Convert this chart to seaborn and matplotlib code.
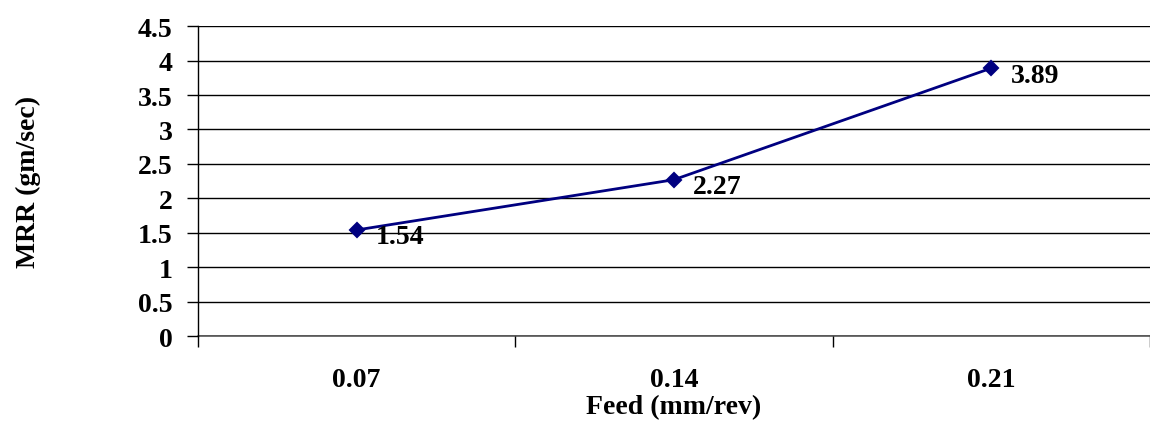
import pandas as pd
import matplotlib
matplotlib.use('Agg')
import matplotlib.pyplot as plt
import seaborn as sns
from matplotlib.ticker import FixedLocator, MultipleLocator

# 数据
feed = ['0.07', '0.14', '0.21']
mrr = [1.54, 2.27, 3.89]

df = pd.DataFrame({'feed': feed, 'mrr': mrr})

sns.set_style('white')
plt.rcParams['font.family'] = ['Liberation Serif', 'DejaVu Serif']
plt.rcParams['font.weight'] = 'bold'
plt.rcParams['text.color'] = 'black'
plt.rcParams['axes.labelcolor'] = 'black'
plt.rcParams['xtick.color'] = 'black'
plt.rcParams['ytick.color'] = 'black'

fig = plt.figure(figsize=(11.5, 4.31), dpi=100)
ax = fig.add_axes([0.172, 0.218, 0.828, 0.719])

sns.pointplot(data=df, x='feed', y='mrr', ax=ax, color='#000080',
              markers='D', linestyles='-', markersize=7, linewidth=2)

# 数据标签
for i, row in df.iterrows():
    ax.annotate(f"{row['mrr']:.2f}", (i, row['mrr']), xytext=(14, -5),
                textcoords='offset points', ha='left', va='center',
                fontsize=20, fontweight='bold')

ax.set_xlim(-0.5, 2.5)
ax.set_ylim(0, 4.5)
ax.yaxis.set_major_locator(MultipleLocator(0.5))
ax.set_yticklabels([f'{v:g}' for v in ax.get_yticks()])
ax.grid(axis='y', color='black', linewidth=1)
ax.set_axisbelow(True)
ax.axhline(0, color='#555555', linewidth=1.2, clip_on=False, zorder=0)

# 类别之间的刻度线
ax.xaxis.set_minor_locator(FixedLocator([-0.5, 0.5, 1.5, 2.5]))
ax.tick_params(axis='x', which='major', length=0, pad=22, labelsize=20)
ax.tick_params(axis='x', which='minor', length=8, width=1, color='black',
               bottom=True, direction='out')
ax.tick_params(axis='y', length=8, width=1, color='black', left=True,
               direction='out', labelsize=20, pad=10)

for s in ['top', 'right', 'bottom']:
    ax.spines[s].set_visible(False)
ax.spines['left'].set_color('black')
ax.spines['left'].set_linewidth(1)

ax.set_xlabel('Feed (mm/rev)', fontsize=20, fontweight='bold', labelpad=2)
ax.set_ylabel('MRR (gm/sec)', fontsize=20, fontweight='bold', labelpad=70)

fig.savefig('out.png', dpi=100)
